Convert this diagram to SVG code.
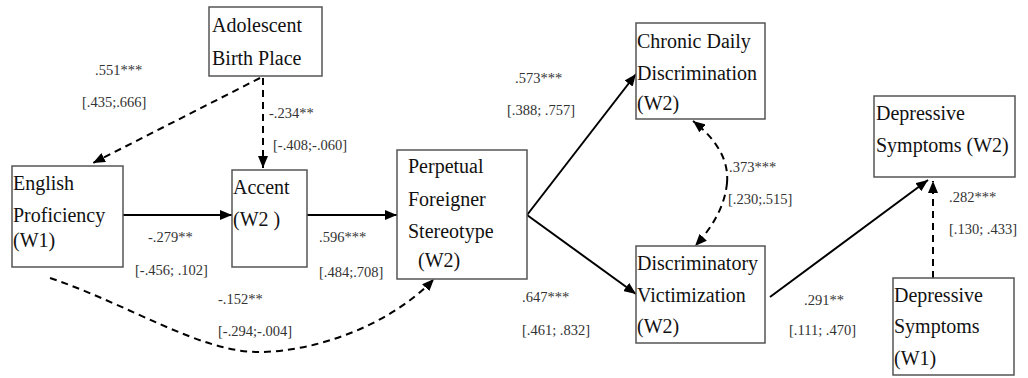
<svg xmlns="http://www.w3.org/2000/svg" width="1028" height="378" viewBox="0 0 1028 378">
<style>
.box{fill:#fff;stroke:#555;stroke-width:1.5}
.t{font-family:"Liberation Serif",serif;font-size:20px;fill:#111}
.l{font-family:"Liberation Serif",serif;font-size:14.5px;fill:#333}
.s{fill:none;stroke:#000;stroke-width:2}
.d{fill:none;stroke:#000;stroke-width:2;stroke-dasharray:7,5}
</style>
<defs>
<marker id="ah" viewBox="0 0 12 10" refX="12" refY="5" markerWidth="12" markerHeight="10" markerUnits="userSpaceOnUse" orient="auto">
<path d="M0,0 L12,5 L0,10 Z" fill="#000"/>
</marker>
</defs>
<rect width="1028" height="378" fill="#fff"/>
<g id="connectors">
<path class="d" d="M260,78 L93,163" marker-end="url(#ah)"/>
<path class="d" d="M263,78 L263,168" marker-end="url(#ah)"/>
<path class="s" d="M123,215 L232,215" marker-end="url(#ah)"/>
<path class="s" d="M307,215 L397,215" marker-end="url(#ah)"/>
<path class="s" d="M527,215 L636,74" marker-end="url(#ah)"/>
<path class="s" d="M527,215 L636,294" marker-end="url(#ah)"/>
<path class="d" d="M727,183 Q730,150 693,121" marker-end="url(#ah)"/>
<path class="d" d="M727,183 Q724,215 695,246" marker-end="url(#ah)"/>
<path class="s" d="M770,297 L928,180" marker-end="url(#ah)"/>
<path class="d" d="M933,278 L933,181" marker-end="url(#ah)"/>
<path class="d" d="M50,278 C130,305 200,352 258,352 S390,325 434,279" marker-end="url(#ah)"/>
</g>
<g id="labels">
<text class="l" x="95" y="75">.551***</text>
<text class="l" x="82" y="107">[.435;.666]</text>
<text class="l" x="269" y="118">-.234**</text>
<text class="l" x="273" y="150">[-.408;-.060]</text>
<text class="l" x="148" y="242">-.279**</text>
<text class="l" x="135" y="275">[-.456; .102]</text>
<text class="l" x="319" y="242">.596***</text>
<text class="l" x="319" y="277">[.484;.708]</text>
<text class="l" x="218" y="304">-.152**</text>
<text class="l" x="218" y="336">[-.294;-.004]</text>
<text class="l" x="515" y="83">.573***</text>
<text class="l" x="507" y="115">[.388; .757]</text>
<text class="l" x="729" y="172">.373***</text>
<text class="l" x="728" y="204">[.230;.515]</text>
<text class="l" x="522" y="302">.647***</text>
<text class="l" x="522" y="335">[.461; .832]</text>
<text class="l" x="804" y="305">.291**</text>
<text class="l" x="789" y="335">[.111; .470]</text>
<text class="l" x="949" y="202">.282***</text>
<text class="l" x="949" y="234">[.130; .433]</text>
</g>
<g id="birthplace">
<rect class="box" x="209" y="7" width="113" height="69"/>
<text class="t" x="212" y="32">Adolescent</text>
<text class="t" x="212" y="65">Birth Place</text>
</g>
<g id="english">
<rect class="box" x="12" y="166" width="111" height="101"/>
<text class="t" x="13" y="190">English</text>
<text class="t" x="13" y="222">Proficiency</text>
<text class="t" x="13" y="247">(W1)</text>
</g>
<g id="accent">
<rect class="box" x="232" y="170" width="75" height="97"/>
<text class="t" x="233" y="194">Accent</text>
<text class="t" x="233" y="226">(W2 )</text>
</g>
<g id="perpetual">
<rect class="box" x="397" y="150" width="130" height="129"/>
<text class="t" x="408" y="173">Perpetual</text>
<text class="t" x="408" y="206">Foreigner</text>
<text class="t" x="408" y="238">Stereotype</text>
<text class="t" x="418" y="267">(W2)</text>
</g>
<g id="chronic">
<rect class="box" x="636" y="23" width="129" height="96"/>
<text class="t" x="637" y="48">Chronic Daily</text>
<text class="t" x="637" y="80">Discrimination</text>
<text class="t" x="637" y="110">(W2)</text>
</g>
<g id="victimization">
<rect class="box" x="636" y="246" width="129" height="97"/>
<text class="t" x="637" y="270">Discriminatory</text>
<text class="t" x="637" y="302">Victimization</text>
<text class="t" x="637" y="333">(W2)</text>
</g>
<g id="depW2">
<rect class="box" x="874" y="96" width="141" height="81"/>
<text class="t" x="876" y="120">Depressive</text>
<text class="t" x="876" y="152">Symptoms (W2)</text>
</g>
<g id="depW1">
<rect class="box" x="893" y="278" width="121" height="97"/>
<text class="t" x="894" y="302">Depressive</text>
<text class="t" x="894" y="333">Symptoms</text>
<text class="t" x="894" y="365">(W1)</text>
</g>
</svg>
